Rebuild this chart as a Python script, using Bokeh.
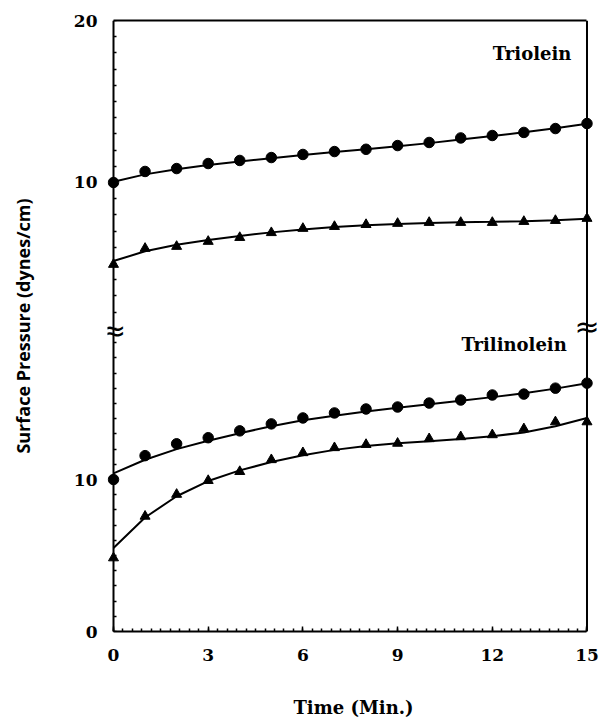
from bokeh.plotting import figure
from bokeh.models import Range1d, FixedTicker, LinearAxis, Label, Span, ColumnDataSource
from bokeh.embed import file_html
from bokeh.resources import INLINE

# ---------------- data ----------------
time_min = list(range(16))

# Triolein (upper panel, dynes/cm)
triolein_circles = [10.0, 10.68, 10.86, 11.17, 11.36, 11.54, 11.73, 11.91, 12.05, 12.28,
                    12.47, 12.75, 12.9, 13.09, 13.33, 13.64]
triolein_circles_fit = [10.05, 10.5, 10.82, 11.08, 11.3, 11.5, 11.7, 11.88, 12.05, 12.23,
                        12.43, 12.65, 12.87, 13.1, 13.35, 13.62]
triolein_triangles = [4.94, 5.93, 6.05, 6.36, 6.6, 6.9, 7.16, 7.28, 7.4, 7.47,
                      7.53, 7.53, 7.53, 7.59, 7.65, 7.78]
triolein_triangles_fit = [5.15, 5.75, 6.15, 6.45, 6.7, 6.92, 7.1, 7.25, 7.36, 7.44,
                          7.5, 7.54, 7.57, 7.61, 7.67, 7.76]

# Trilinolein (lower panel, dynes/cm)
trilinolein_circles = [10.0, 11.57, 12.35, 12.75, 13.2, 13.66, 14.05, 14.38, 14.64, 14.77,
                       15.03, 15.23, 15.56, 15.62, 16.01, 16.34]
trilinolein_circles_fit = [10.4, 11.3, 12.0, 12.55, 13.05, 13.5, 13.9, 14.2, 14.48, 14.72,
                           14.95, 15.18, 15.42, 15.68, 15.98, 16.33]
trilinolein_triangles = [4.84, 7.58, 9.02, 9.93, 10.52, 11.3, 11.76, 12.09, 12.3, 12.38,
                         12.68, 12.81, 12.94, 13.33, 13.79, 13.79]
trilinolein_triangles_fit = [5.5, 7.5, 8.9, 9.9, 10.6, 11.15, 11.6, 11.95, 12.2, 12.38,
                             12.52, 12.66, 12.84, 13.1, 13.5, 14.05]

x_major_ticks = [0, 3, 6, 9, 12, 15]
x_minor_step = 0.3
lower_major_ticks = [0, 10]
upper_major_ticks = [10, 20]

# ---------------- scales ----------------
LOWER_TOP = 40.2          # lower section: 0 .. LOWER_TOP over frame height
UPPER_START = -17.72      # upper section range start (end = 20)
UPPER_END = 20.0


def to_lower(u):
    return (u - UPPER_START) / (UPPER_END - UPPER_START) * LOWER_TOP


SERIF = "DejaVu Serif"

p = figure(frame_width=492, frame_height=611,
           x_range=Range1d(-0.19, 15.396), y_range=Range1d(0, LOWER_TOP),
           output_backend="svg", toolbar_location=None,
           min_border_left=107, min_border_right=0, min_border_top=20, min_border_bottom=90)
p.extra_y_ranges = {"upper": Range1d(UPPER_START, UPPER_END)}
p.grid.visible = False
p.outline_line_color = None
p.background_fill_color = "white"
p.border_fill_color = "white"

# ---------------- x axis ----------------
xax = p.xaxis[0]
xax.bounds = (0, 15)
xminor = [round(i * x_minor_step, 2) for i in range(int(15 / x_minor_step) + 1)]
xax.ticker = FixedTicker(ticks=x_major_ticks, minor_ticks=xminor)
xax.major_tick_in = 5
xax.major_tick_out = 0
xax.minor_tick_in = 3
xax.minor_tick_out = 0
xax.axis_line_width = 2
xax.major_tick_line_width = 1.5
xax.minor_tick_line_width = 1.5
xax.major_label_standoff = 17
xax.major_label_text_font = SERIF
xax.major_label_text_font_style = "bold"
xax.major_label_text_font_size = "17px"
xax.major_label_text_color = "black"
xax.axis_label = "Time (Min.)"
xax.axis_label_text_font = SERIF
xax.axis_label_text_font_style = "bold"
xax.axis_label_text_font_size = "18px"
xax.axis_label_text_color = "black"
xax.axis_label_standoff = 33

# ---------------- y axis: labels (at frame edge) ----------------
y_major = lower_major_ticks + [to_lower(u) for u in upper_major_ticks]
y_minor = [v for v in range(1, 20) if v != 10] + [to_lower(u) for u in range(1, 20) if u != 10]

yax = p.yaxis[0]
yax.ticker = FixedTicker(ticks=y_major, minor_ticks=[])
yax.major_label_overrides = {to_lower(u): str(u) for u in upper_major_ticks}
yax.axis_line_color = None
yax.major_tick_line_color = None
yax.minor_tick_line_color = None
yax.major_tick_in = 0
yax.major_tick_out = 0
yax.minor_tick_in = 0
yax.minor_tick_out = 0
yax.major_label_standoff = 10
yax.major_label_text_font = SERIF
yax.major_label_text_font_style = "bold"
yax.major_label_text_font_size = "17px"
yax.major_label_text_color = "black"
yax.axis_label = "Surface Pressure (dynes/cm)"
yax.axis_label_text_font = "Open Sans"
yax.axis_label_text_font_style = "bold"
yax.axis_label_text_font_size = "18px"
yax.axis_label_text_color = "black"
yax.axis_label_standoff = 36

# ---------------- y axis: line and inward ticks at time 0 ----------------
yline = LinearAxis(fixed_location=0, ticker=FixedTicker(ticks=[], minor_ticks=y_major + y_minor),
                   major_tick_in=0, major_tick_out=0, minor_tick_in=3, minor_tick_out=0,
                   axis_line_width=2, minor_tick_line_width=1.5)
p.add_layout(yline, "left")

top_axis = LinearAxis(ticker=FixedTicker(ticks=[]), bounds=(0, 15),
                      major_tick_in=0, major_tick_out=0, minor_tick_in=0, minor_tick_out=0,
                      axis_line_width=2)
p.add_layout(top_axis, "above")
p.add_layout(Span(location=15, dimension="height", line_color="black", line_width=2))

# ---------------- series ----------------
src_up = ColumnDataSource(dict(t=time_min, c=triolein_circles, cf=triolein_circles_fit,
                               tr=triolein_triangles, trf=triolein_triangles_fit))
src_lo = ColumnDataSource(dict(t=time_min, c=trilinolein_circles, cf=trilinolein_circles_fit,
                               tr=trilinolein_triangles, trf=trilinolein_triangles_fit))

for src, rng in ((src_up, "upper"), (src_lo, "default")):
    p.line("t", "cf", source=src, y_range_name=rng, line_color="black", line_width=2)
    p.line("t", "trf", source=src, y_range_name=rng, line_color="black", line_width=2)
    p.scatter("t", "c", source=src, y_range_name=rng, marker="circle", size=10.5,
              fill_color="black", line_color="black")
    p.scatter("t", "tr", source=src, y_range_name=rng, marker="triangle", size=10,
              fill_color="black", line_color="black")

# ---------------- labels ----------------
p.add_layout(Label(x=13.26, y=17.96, y_range_name="upper", text="Triolein",
                   text_align="center", text_baseline="middle", text_color="black",
                   text_font=SERIF, text_font_style="bold", text_font_size="18px"))
p.add_layout(Label(x=12.69, y=18.85, text="Trilinolein",
                   text_align="center", text_baseline="middle", text_color="black",
                   text_font=SERIF, text_font_style="bold", text_font_size="18px"))

for bx, by in ((0, 19.8), (15, 20.1)):
    p.add_layout(Label(x=bx, y=by, text="≈", text_align="center", text_baseline="middle",
                       text_color="black", text_font="DejaVu Sans", text_font_size="30px"))

open("out.html", "w").write(file_html(p, INLINE))
